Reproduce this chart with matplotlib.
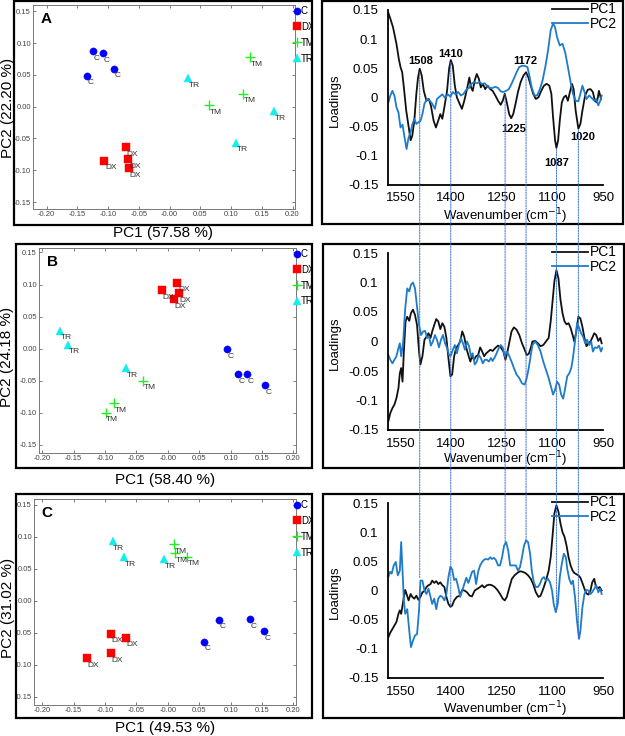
import matplotlib
matplotlib.use('Agg')
import matplotlib.pyplot as plt
from matplotlib.patches import Rectangle, ConnectionPatch
from matplotlib.transforms import Bbox, TransformedBbox

plt.rcParams['font.family'] = ['Liberation Sans', 'DejaVu Sans']

W, H = 625, 736

# ---------------- score plots (PCA) ----------------
groups = ['C', 'DX', 'TM', 'TR']
g_marker = {'C': 'o', 'DX': 's', 'TM': '+', 'TR': '^'}
g_color = {'C': '#0000ff', 'DX': '#ff0000', 'TM': '#22ee22', 'TR': '#11eeee'}
g_size = {'C': 5.2, 'DX': 5.8, 'TM': 7, 'TR': 5.4}

# panel A
a_c_x = [-0.125, -0.108, -0.090, -0.135]
a_c_y = [0.087, 0.084, 0.060, 0.049]
a_dx_x = [-0.071, -0.106, -0.067, -0.066]
a_dx_y = [-0.064, -0.085, -0.083, -0.097]
a_tm_x = [0.131, 0.119, 0.064]
a_tm_y = [0.078, 0.020, 0.002]
a_tr_x = [0.030, 0.170, 0.108]
a_tr_y = [0.045, -0.007, -0.057]

# panel B
b_c_x = [0.094, 0.111, 0.126, 0.155]
b_c_y = [-0.001, -0.040, -0.040, -0.057]
b_dx_x = [-0.009, 0.015, 0.018, 0.010]
b_dx_y = [0.091, 0.103, 0.086, 0.077]
b_tm_x = [-0.039, -0.085, -0.099]
b_tm_y = [-0.050, -0.085, -0.100]
b_tr_x = [-0.171, -0.159, -0.066]
b_tr_y = [0.028, 0.006, -0.031]

# panel C
c_c_x = [0.057, 0.082, 0.130, 0.153]
c_c_y = [-0.064, -0.030, -0.029, -0.048]
c_dx_x = [-0.091, -0.067, -0.091, -0.129]
c_dx_y = [-0.052, -0.058, -0.082, -0.090]
c_tm_x = [0.010, 0.011, 0.030]
c_tm_y = [0.088, 0.074, 0.069]
c_tr_x = [-0.088, -0.070, -0.006]
c_tr_y = [0.093, 0.068, 0.065]

pc1_var = ['PC1 (57.58 %)', 'PC1 (58.40 %)', 'PC1 (49.53 %)']
pc2_var = ['PC2 (22.20 %)', 'PC2 (24.18 %)', 'PC2 (31.02 %)']
panel_tags = ['A', 'B', 'C']

score_xticks = [-0.20, -0.15, -0.10, -0.05, 0.0, 0.05, 0.10, 0.15, 0.20]
score_xlabels = ['-0.20', '-0.15', '-0.10', '-0.05', '-0.00', '0.05', '0.10', '0.15', '0.20']
score_yticks = [-0.15, -0.10, -0.05, 0.0, 0.05, 0.10, 0.15]
score_ylabels = ['-0.15', '-0.10', '-0.05', '0.00', '0.05', '0.10', '0.15']

# ---------------- loadings ----------------
a_wn1 = [1586, 1580, 1572, 1562, 1555, 1550, 1545, 1540, 1533, 1525, 1520, 1515, 1509, 1503, 1498,
         1493, 1487, 1481, 1473, 1466, 1460, 1452, 1445, 1438, 1432, 1426, 1420, 1412, 1406, 1401,
         1395, 1389, 1383, 1375, 1368, 1361, 1353, 1346, 1341, 1336, 1330, 1324, 1318, 1312, 1306,
         1299, 1292, 1284, 1277, 1269, 1261, 1253, 1247, 1241, 1235, 1228, 1222, 1216, 1209, 1202,
         1194, 1186, 1178, 1171, 1164, 1157, 1149, 1141, 1133, 1125, 1117, 1109, 1103, 1098, 1092,
         1088, 1083, 1078, 1072, 1066, 1060, 1054, 1048, 1042, 1037, 1031, 1023, 1017, 1011, 1003,
         995, 987, 980, 974, 968, 962, 956]
a_pc1 = [0.145, 0.135, 0.120, 0.092, 0.066, 0.052, 0.043, 0.017, -0.023, -0.054, -0.074, -0.066, -0.040, 0.006, 0.034,
         0.049, 0.037, 0.011, -0.006, -0.003, -0.014, -0.040, -0.052, -0.040, -0.029, -0.037, -0.017, 0.011, 0.049, 0.064,
         0.054, 0.020, 0.000, -0.011, -0.020, -0.006, 0.014, 0.034, 0.017, 0.011, 0.029, 0.040, 0.032, 0.017, 0.023,
         0.014, 0.020, 0.014, 0.011, 0.003, -0.006, -0.013, -0.006, 0.006, -0.009, -0.029, -0.036, -0.029, -0.011, 0.009,
         0.026, 0.037, 0.043, 0.034, 0.020, 0.006, -0.003, 0.000, 0.011, 0.020, 0.023, 0.020, 0.006, -0.034, -0.074,
         -0.087, -0.074, -0.040, -0.009, 0.000, 0.003, -0.006, 0.009, 0.023, 0.014, -0.023, -0.054, -0.046, -0.023, 0.003,
         0.013, 0.014, 0.009, -0.006, -0.009, 0.011, -0.003]
a_wn2 = [1586, 1580, 1574, 1568, 1562, 1556, 1550, 1544, 1538, 1532, 1526, 1520, 1515, 1509, 1503,
         1497, 1491, 1485, 1479, 1471, 1463, 1456, 1448, 1442, 1434, 1426, 1418, 1410, 1402, 1395,
         1387, 1379, 1371, 1363, 1355, 1347, 1340, 1332, 1324, 1316, 1308, 1300, 1292, 1284, 1277,
         1269, 1261, 1253, 1245, 1237, 1229, 1221, 1214, 1206, 1198, 1190, 1182, 1174, 1168, 1161,
         1153, 1145, 1137, 1129, 1121, 1113, 1105, 1098, 1092, 1086, 1078, 1070, 1062, 1054, 1046,
         1039, 1031, 1023, 1017, 1011, 1005, 999, 991, 984, 976, 970, 964, 958, 954]
a_pc2 = [-0.009, 0.003, 0.011, 0.003, -0.017, -0.026, -0.052, -0.047, -0.069, -0.089, -0.069, -0.060, -0.047, -0.037, -0.046,
         -0.043, -0.041, -0.029, -0.011, -0.003, -0.006, -0.011, -0.020, -0.003, 0.001, 0.005, -0.001, 0.005, 0.001, 0.009,
         0.005, 0.009, 0.003, 0.006, 0.013, 0.016, 0.023, 0.026, 0.024, 0.026, 0.023, 0.024, 0.018, 0.016, 0.016,
         0.018, 0.016, 0.010, 0.009, 0.011, 0.014, 0.023, 0.032, 0.043, 0.052, 0.054, 0.054, 0.052, 0.037, 0.016,
         0.003, 0.003, 0.014, 0.029, 0.052, 0.080, 0.115, 0.127, 0.120, 0.103, 0.089, 0.092, 0.077, 0.052, 0.026,
         0.006, -0.006, -0.007, 0.006, 0.020, 0.009, -0.003, 0.003, -0.001, -0.006, -0.003, -0.014, -0.006, 0.003]

b_wn1 = [1586, 1580, 1574, 1568, 1562, 1556, 1552, 1548, 1544, 1540, 1535, 1530, 1524, 1519, 1513,
         1507, 1501, 1495, 1491, 1485, 1479, 1473, 1467, 1461, 1456, 1450, 1444, 1438, 1432, 1426,
         1420, 1414, 1408, 1402, 1397, 1391, 1385, 1379, 1373, 1367, 1361, 1355, 1349, 1343, 1338,
         1332, 1326, 1320, 1314, 1308, 1302, 1296, 1290, 1284, 1277, 1269, 1261, 1253, 1245, 1239,
         1233, 1227, 1221, 1214, 1206, 1198, 1190, 1182, 1176, 1170, 1164, 1159, 1151, 1143, 1135,
         1127, 1119, 1111, 1105, 1099, 1094, 1088, 1082, 1076, 1070, 1064, 1058, 1052, 1046, 1040,
         1035, 1029, 1023, 1017, 1011, 1005, 999, 993, 987, 982, 976, 970, 964, 958, 954]
b_pc1 = [-0.135, -0.121, -0.113, -0.107, -0.096, -0.079, -0.054, -0.045, -0.068, -0.017, 0.034, 0.042, 0.035, 0.048, 0.054,
         0.045, 0.028, -0.017, -0.039, -0.025, 0.003, 0.008, 0.014, 0.006, 0.017, 0.028, 0.038, 0.034, 0.021, 0.031,
         0.025, 0.006, -0.028, -0.059, -0.056, -0.025, -0.011, -0.006, 0.000, 0.017, 0.008, -0.011, -0.023, -0.034, -0.025,
         -0.031, -0.025, -0.023, -0.010, -0.017, -0.025, -0.020, -0.017, -0.014, -0.016, -0.011, -0.007, -0.010, -0.017, -0.031,
         -0.017, 0.000, 0.017, 0.024, 0.020, 0.011, -0.003, -0.014, -0.023, -0.021, -0.011, 0.000, 0.001, -0.003, -0.008,
         -0.006, 0.000, 0.006, 0.034, 0.071, 0.102, 0.121, 0.107, 0.071, 0.048, 0.034, 0.029, 0.031, 0.023, 0.011,
         0.000, 0.017, 0.042, 0.039, 0.025, 0.006, -0.008, -0.003, 0.000, 0.006, 0.014, 0.011, 0.001, 0.006, -0.003]
b_wn2 = [1586, 1580, 1574, 1568, 1562, 1556, 1552, 1548, 1542, 1536, 1530, 1524, 1519, 1513, 1507,
         1501, 1495, 1489, 1483, 1477, 1471, 1465, 1460, 1454, 1448, 1442, 1436, 1430, 1424, 1418,
         1412, 1406, 1401, 1395, 1389, 1383, 1377, 1371, 1365, 1359, 1353, 1347, 1341, 1336, 1330,
         1324, 1318, 1312, 1306, 1300, 1294, 1288, 1282, 1277, 1269, 1261, 1253, 1247, 1241, 1235,
         1229, 1221, 1214, 1206, 1198, 1190, 1182, 1176, 1170, 1164, 1159, 1151, 1143, 1135, 1127,
         1119, 1111, 1103, 1098, 1092, 1086, 1080, 1074, 1068, 1062, 1056, 1050, 1044, 1039, 1033,
         1027, 1021, 1015, 1009, 1003, 997, 991, 985, 980, 974, 968, 962, 956, 952]
b_pc2 = [-0.023, -0.031, -0.037, -0.031, -0.025, -0.011, -0.003, -0.025, 0.000, 0.056, 0.090, 0.085, 0.096, 0.100, 0.090,
         0.059, 0.028, 0.011, 0.017, 0.018, 0.006, 0.008, -0.007, 0.000, 0.011, 0.003, -0.010, 0.003, 0.011, -0.003,
         -0.011, -0.023, -0.024, -0.014, -0.006, -0.020, -0.006, 0.006, -0.003, -0.014, 0.000, -0.008, -0.025, -0.020, -0.039,
         -0.034, -0.023, -0.028, -0.037, -0.031, -0.031, -0.034, -0.028, -0.033, -0.025, -0.014, -0.006, -0.010, -0.025, -0.017,
         -0.023, -0.034, -0.045, -0.056, -0.062, -0.071, -0.073, -0.062, -0.045, -0.023, -0.006, 0.000, -0.006, -0.017, -0.034,
         -0.048, -0.062, -0.079, -0.090, -0.082, -0.068, -0.073, -0.090, -0.097, -0.079, -0.059, -0.054, -0.045, -0.028, 0.000,
         0.031, 0.024, 0.014, 0.008, -0.003, 0.003, -0.006, 0.000, -0.017, -0.010, -0.011, -0.007, -0.017, -0.011]

c_wn1 = [1586, 1580, 1574, 1568, 1562, 1556, 1552, 1548, 1544, 1540, 1536, 1532, 1526, 1520, 1515,
         1509, 1503, 1497, 1491, 1485, 1479, 1473, 1467, 1461, 1456, 1450, 1444, 1438, 1432, 1426,
         1420, 1414, 1408, 1402, 1397, 1391, 1383, 1375, 1367, 1361, 1353, 1345, 1338, 1330, 1322,
         1314, 1308, 1302, 1294, 1286, 1279, 1271, 1263, 1255, 1247, 1241, 1235, 1227, 1220, 1212,
         1204, 1196, 1188, 1180, 1172, 1164, 1157, 1149, 1141, 1135, 1127, 1119, 1111, 1105, 1099,
         1094, 1088, 1082, 1076, 1070, 1064, 1058, 1052, 1046, 1040, 1035, 1029, 1023, 1017, 1011,
         1005, 999, 993, 987, 982, 976, 972, 966, 960, 954]
c_pc1 = [-0.080, -0.072, -0.066, -0.060, -0.054, -0.040, -0.034, -0.040, -0.026, -0.011, 0.001, -0.006, -0.017, -0.006, -0.011,
         -0.014, -0.009, -0.016, -0.011, -0.003, -0.001, 0.006, 0.009, 0.011, 0.017, 0.013, 0.016, 0.011, 0.014, 0.009,
         0.006, -0.011, -0.023, -0.028, -0.026, -0.017, -0.011, -0.009, 0.001, 0.000, -0.003, -0.009, -0.010, 0.000, 0.003,
         0.006, 0.009, 0.005, 0.009, 0.010, 0.009, 0.006, 0.001, -0.006, -0.014, -0.017, -0.011, 0.006, 0.020, 0.026,
         0.030, 0.033, 0.032, 0.030, 0.026, 0.020, 0.011, -0.003, -0.011, -0.009, 0.003, 0.017, 0.034, 0.057, 0.097,
         0.132, 0.146, 0.135, 0.115, 0.100, 0.092, 0.077, 0.057, 0.043, 0.034, 0.030, 0.028, 0.026, 0.022, 0.013,
         0.003, -0.005, -0.007, 0.000, 0.014, 0.020, 0.009, 0.003, 0.006, 0.000]
c_wn2 = [1586, 1581, 1576, 1570, 1564, 1558, 1552, 1548, 1544, 1540, 1536, 1530, 1524, 1519, 1513,
         1507, 1501, 1495, 1491, 1485, 1479, 1473, 1467, 1461, 1456, 1450, 1444, 1438, 1432, 1426,
         1420, 1414, 1408, 1402, 1397, 1391, 1385, 1379, 1373, 1367, 1361, 1355, 1349, 1343, 1338,
         1332, 1326, 1320, 1314, 1308, 1302, 1296, 1290, 1284, 1279, 1273, 1267, 1261, 1255, 1249,
         1243, 1237, 1231, 1225, 1220, 1214, 1208, 1202, 1196, 1190, 1184, 1178, 1172, 1166, 1161,
         1155, 1149, 1143, 1137, 1131, 1125, 1119, 1113, 1107, 1101, 1096, 1090, 1084, 1078, 1072,
         1066, 1060, 1056, 1050, 1044, 1039, 1033, 1027, 1021, 1017, 1011, 1005, 999, 993, 987,
         982, 976, 970, 964, 958, 954]
c_pc2 = [0.023, 0.032, 0.029, 0.043, 0.049, 0.026, 0.034, 0.083, 0.034, -0.017, -0.040, -0.032, -0.069, -0.097, -0.086,
         -0.077, -0.075, -0.034, 0.017, 0.017, 0.000, -0.006, 0.003, -0.011, -0.023, -0.014, -0.032, -0.014, -0.009, -0.011,
         -0.017, -0.006, 0.023, 0.041, 0.036, 0.018, 0.020, 0.006, -0.011, 0.000, 0.011, 0.022, 0.013, 0.023, 0.032,
         0.034, 0.011, 0.032, 0.043, 0.049, 0.053, 0.054, 0.053, 0.057, 0.054, 0.056, 0.052, 0.043, 0.043, 0.057,
         0.077, 0.083, 0.069, 0.043, 0.043, 0.043, 0.043, 0.034, 0.040, 0.057, 0.077, 0.086, 0.083, 0.063, 0.034,
         0.014, 0.006, 0.006, 0.011, 0.020, 0.023, 0.017, 0.020, 0.014, 0.000, -0.023, -0.037, -0.023, 0.023, 0.046,
         0.063, 0.057, 0.037, 0.020, 0.011, 0.017, -0.011, -0.052, -0.083, -0.069, -0.029, -0.006, 0.001, 0.000, -0.006,
         -0.003, 0.003, 0.009, -0.003, 0.003, -0.006]

# band labels in panel A
band_txt = ['1508', '1410', '1172', '1225', '1087', '1020']
band_x = [1491, 1402, 1181, 1214, 1088, 1009]
band_y = [0.063, 0.075, 0.063, -0.054, -0.113, -0.069]

# dotted guides running from the top loadings panel to the bottom one
guide_wn = [1493, 1401, 1240, 1178, 1088, 1023]
guide_top = [0.043, 0.060, 0.006, 0.040, -0.089, -0.057]
guide_bot = [0.021, -0.028, 0.081, 0.083, -0.037, -0.083]

pc1_col = '#111111'
pc2_col = '#1f7bc8'


def rect(l, t, r, b):
    return [l / W, 1 - b / H, (r - l) / W, (b - t) / H]


def frac(box, px, py):
    l, t, r, b = box
    return (px - l) / (r - l), (b - py) / (b - t)


fig = plt.figure(figsize=(W / 100, H / 100), dpi=100)

# outer frames of every panel
frames = [(14, 1, 312, 225), (16, 244, 312, 468), (16, 494, 312, 718),
          (322, 1, 623, 224), (323, 244, 624, 468), (323, 494, 624, 718)]
for l, t, r, b in frames:
    fig.add_artist(Rectangle((l / W, 1 - b / H), (r - l) / W, (b - t) / H,
                             transform=fig.transFigure, fill=False, lw=1.6, ec='black', zorder=5))

score_boxes = [(33, 5, 295, 209), (39, 248, 296, 453), (34, 499, 296, 705)]
score_xlim = [(-0.222, 0.204), (-0.205, 0.204), (-0.213, 0.204)]
score_ylim = [(-0.161, 0.160), (-0.163, 0.157), (-0.163, 0.159)]
ylab_pos = [(8, 108), (7, 357), (8, 608)]
xlab_pos = [(163, 233), (165, 480), (165, 728)]
leg_top = [5, 248, 499]

score_data = [
    {'C': (a_c_x, a_c_y), 'DX': (a_dx_x, a_dx_y), 'TM': (a_tm_x, a_tm_y), 'TR': (a_tr_x, a_tr_y)},
    {'C': (b_c_x, b_c_y), 'DX': (b_dx_x, b_dx_y), 'TM': (b_tm_x, b_tm_y), 'TR': (b_tr_x, b_tr_y)},
    {'C': (c_c_x, c_c_y), 'DX': (c_dx_x, c_dx_y), 'TM': (c_tm_x, c_tm_y), 'TR': (c_tr_x, c_tr_y)},
]

for i in range(3):
    box = score_boxes[i]
    ax = fig.add_axes(rect(*box))
    for g in groups:
        xs, ys = score_data[i][g]
        ax.plot(xs, ys, ls='none', marker=g_marker[g], color=g_color[g], ms=g_size[g],
                mew=1.0 if g == 'TM' else 0.3, label=g)
        for x, y in zip(xs, ys):
            ax.annotate(g, (x, y), xytext=(0.5, -2.5), textcoords='offset points',
                        fontsize=6, color='#333333', ha='left', va='top',
                        family=['Liberation Sans Narrow', 'Liberation Sans', 'DejaVu Sans'])
    ax.set_xlim(*score_xlim[i])
    ax.set_ylim(*score_ylim[i])
    ax.set_xticks(score_xticks)
    ax.set_xticklabels(score_xlabels)
    ax.set_yticks(score_yticks)
    ax.set_yticklabels(score_ylabels)
    ax.tick_params(direction='in', length=2.5, width=0.6, color='#666666', labelsize=5.5,
                   labelcolor='#444444', pad=1.5, top=True, right=True)
    for s in ax.spines.values():
        s.set_color('#777777')
        s.set_linewidth(0.7)
    ax.text(0.03, 0.965, panel_tags[i], transform=ax.transAxes, fontsize=11,
            fontweight='bold', ha='left', va='top')
    ax.set_xlabel(pc1_var[i], fontsize=11)
    ax.set_ylabel(pc2_var[i], fontsize=11)
    ax.xaxis.set_label_coords(*frac(box, *xlab_pos[i]))
    ax.yaxis.set_label_coords(*frac(box, *ylab_pos[i]))
    ax.xaxis.label.set_va('center')
    ax.yaxis.label.set_va('center')

    leg = ax.legend(loc='upper left', bbox_to_anchor=(294 / W, 1 - (leg_top[i] + 1) / H),
                    bbox_transform=fig.transFigure, frameon=False,
                    borderaxespad=0.0, borderpad=0.0, handlelength=0.7, handletextpad=0.0,
                    labelspacing=0.6, fontsize=7)
    fl, ft, fr, fb = frames[i]
    clip = TransformedBbox(Bbox([[0, 1 - fb / H], [(fr - 1) / W, 1 - ft / H]]), fig.transFigure)
    for t in leg.get_texts():
        t.set_clip_on(True)
        t.set_clip_box(clip)

# ---------------- loadings panels ----------------
load_boxes = [(388, 10, 603, 184.5), (388, 253, 603, 430), (388, 503, 603, 678)]
load_data = [(a_wn1, a_pc1, a_wn2, a_pc2), (b_wn1, b_pc1, b_wn2, b_pc2), (c_wn1, c_pc1, c_wn2, c_pc2)]
load_ylab = [(335, 100), (335, 343), (335, 592)]
load_xlab = [(505, 216), (505, 459), (505, 709)]
legend_anchor = [(618, 1), (618, 244), (618, 494)]

load_axes = []
for i in range(3):
    box = load_boxes[i]
    ax = fig.add_axes(rect(*box))
    wn1, p1, wn2, p2 = load_data[i]
    ax.plot(wn1, p1, color=pc1_col, lw=1.3, label='PC1')
    ax.plot(wn2, p2, color=pc2_col, lw=1.3, label='PC2')
    ax.set_xlim(1587, 951)
    ax.set_ylim(-0.15, 0.15)
    ax.set_xticks([1550, 1400, 1250, 1100, 950])
    ax.set_yticks([0.15, 0.1, 0.05, 0, -0.05, -0.1, -0.15])
    ax.set_yticklabels(['0.15', '0.1', '0.05', '0', '-0.05', '-0.1', '-0.15'])
    ax.tick_params(axis='y', length=0, labelsize=9.5, pad=7)
    ax.tick_params(axis='x', length=0, labelsize=9.5, pad=5.5)
    ax.spines['top'].set_visible(False)
    ax.spines['right'].set_visible(False)
    ax.spines['left'].set_linewidth(1.3)
    ax.spines['bottom'].set_linewidth(1.3)
    ax.set_xlabel('Wavenumber (cm$^{-1}$)', fontsize=9.5)
    ax.set_ylabel('Loadings', fontsize=9.5)
    ax.xaxis.set_label_coords(*frac(box, *load_xlab[i]))
    ax.yaxis.set_label_coords(*frac(box, *load_ylab[i]))
    ax.xaxis.label.set_va('center')
    ax.yaxis.label.set_va('center')
    lx, ly = legend_anchor[i]
    ax.legend(loc='upper right', bbox_to_anchor=(lx / W, 1 - ly / H), bbox_transform=fig.transFigure,
              frameon=False, fontsize=10, handlelength=2.6, handletextpad=0.1,
              labelspacing=0.05, borderpad=0.1, borderaxespad=0)
    load_axes.append(ax)

for t, x, y in zip(band_txt, band_x, band_y):
    load_axes[0].text(x, y, t, fontsize=8, fontweight='bold', ha='center', va='center')

for x, y0, y1 in zip(guide_wn, guide_top, guide_bot):
    cp = ConnectionPatch(xyA=(x, y0), coordsA=load_axes[0].transData,
                         xyB=(x, y1), coordsB=load_axes[2].transData,
                         color='#3a6fd8', lw=0.7, ls=(0, (1.5, 1.2)), zorder=6)
    fig.add_artist(cp)

fig.savefig('out.png', dpi=100)
